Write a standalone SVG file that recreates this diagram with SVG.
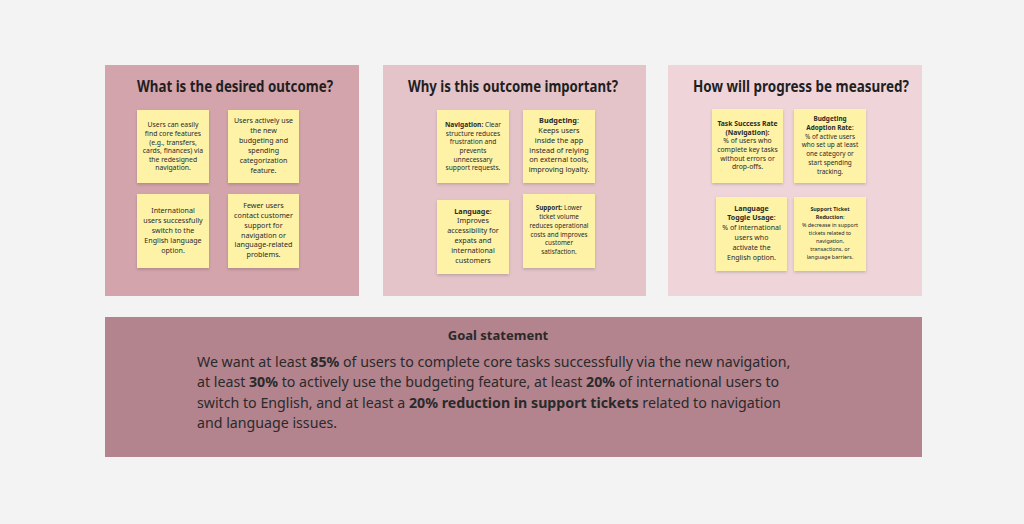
<svg xmlns="http://www.w3.org/2000/svg" width="1024" height="524" viewBox="0 0 1024 524">
<defs>
<filter id="sh" x="-20%" y="-20%" width="140%" height="150%">
<feDropShadow dx="0" dy="1.5" stdDeviation="1.5" flood-color="#000" flood-opacity="0.18"/>
</filter>
<style>
text{font-family:"Noto Sans","Open Sans","Liberation Sans",sans-serif;fill:#2a2a2a;}
.title{font-size:16px;font-weight:700;text-anchor:middle;fill:#1f1f1f;}
.sticky{fill:#fdf2a6;filter:url(#sh);}
.st{text-anchor:middle;}
.b{font-weight:700;}
.goal{font-size:14.2px;}
.gt{font-size:13px;font-weight:700;text-anchor:middle;}
</style>
</defs>
<rect width="1024" height="524" fill="#f3f3f3"/>

<g id="panel-outcome">
<rect x="105" y="65" width="254" height="231" fill="#d3a4ab"/>
<text class="title" x="235" y="92" textLength="196" lengthAdjust="spacingAndGlyphs">What is the desired outcome?</text>
</g>
<g id="panel-important">
<rect x="383" y="65" width="263" height="231" fill="#e5c4c9"/>
<text class="title" x="513" y="92" textLength="210" lengthAdjust="spacingAndGlyphs">Why is this outcome important?</text>
</g>
<g id="panel-measured">
<rect x="668" y="65" width="254" height="231" fill="#efd5da"/>
<text class="title" x="801" y="92" textLength="216" lengthAdjust="spacingAndGlyphs">How will progress be measured?</text>
</g>

<g id="sticky-a">
<rect class="sticky" x="137" y="110" width="72" height="73"/>
<text class="st" font-size="6.8"><tspan x="173" y="127.4">Users can easily</tspan><tspan x="173" y="136">find core features</tspan><tspan x="173" y="144.6">(e.g., transfers,</tspan><tspan x="173" y="153.2">cards, finances) via</tspan><tspan x="173" y="161.8">the redesigned</tspan><tspan x="173" y="170.4">navigation.</tspan></text>
</g>
<g id="sticky-b">
<rect class="sticky" x="228" y="110" width="71" height="73"/>
<text class="st" font-size="7.1"><tspan x="263.5" y="123">Users actively use</tspan><tspan x="263.5" y="133">the new</tspan><tspan x="263.5" y="143">budgeting and</tspan><tspan x="263.5" y="153">spending</tspan><tspan x="263.5" y="163">categorization</tspan><tspan x="263.5" y="173">feature.</tspan></text>
</g>
<g id="sticky-c">
<rect class="sticky" x="137" y="194" width="72" height="74"/>
<text class="st" font-size="7.1"><tspan x="173" y="212.5">International</tspan><tspan x="173" y="222.5">users successfully</tspan><tspan x="173" y="232.5">switch to the</tspan><tspan x="173" y="242.5">English language</tspan><tspan x="173" y="252.5">option.</tspan></text>
</g>
<g id="sticky-d">
<rect class="sticky" x="228" y="194" width="71" height="74"/>
<text class="st" font-size="7.2"><tspan x="263.5" y="208.2">Fewer users</tspan><tspan x="263.5" y="218">contact customer</tspan><tspan x="263.5" y="227.8">support for</tspan><tspan x="263.5" y="237.6">navigation or</tspan><tspan x="263.5" y="247.4">language-related</tspan><tspan x="263.5" y="257.2">problems.</tspan></text>
</g>

<g id="sticky-e">
<rect class="sticky" x="437" y="110" width="72" height="73"/>
<text class="st" font-size="6.6"><tspan x="473" y="127.1"><tspan class="b">Navigation:</tspan> Clear</tspan><tspan x="473" y="135.7">structure reduces</tspan><tspan x="473" y="144.3">frustration and</tspan><tspan x="473" y="152.9">prevents</tspan><tspan x="473" y="161.5">unnecessary</tspan><tspan x="473" y="170.1">support requests.</tspan></text>
</g>
<g id="sticky-f">
<rect class="sticky" x="523" y="110" width="72" height="73"/>
<text class="st" font-size="7.3"><tspan x="559" y="123.2"><tspan class="b">Budgeting</tspan>:</tspan><tspan x="559" y="133">Keeps users</tspan><tspan x="559" y="142.8">inside the app</tspan><tspan x="559" y="152.6">instead of relying</tspan><tspan x="559" y="162.4">on external tools,</tspan><tspan x="559" y="172.2">improving loyalty.</tspan></text>
</g>
<g id="sticky-g">
<rect class="sticky" x="437" y="200" width="72" height="74"/>
<text class="st" font-size="7.2"><tspan x="473" y="213.5"><tspan class="b">Language</tspan>:</tspan><tspan x="473" y="223.3">Improves</tspan><tspan x="473" y="233.1">accessibility for</tspan><tspan x="473" y="242.9">expats and</tspan><tspan x="473" y="252.7">international</tspan><tspan x="473" y="262.5">customers</tspan></text>
</g>
<g id="sticky-h">
<rect class="sticky" x="523" y="194" width="72" height="74"/>
<text class="st" font-size="6.3"><tspan x="559" y="210.2"><tspan class="b">Support</tspan>: Lower</tspan><tspan x="559" y="219">ticket volume</tspan><tspan x="559" y="227.8">reduces operational</tspan><tspan x="559" y="236.6">costs and improves</tspan><tspan x="559" y="245.4">customer</tspan><tspan x="559" y="254.2">satisfaction.</tspan></text>
</g>

<g id="sticky-i">
<rect class="sticky" x="712" y="109" width="71" height="74"/>
<text class="st" font-size="6.8"><tspan x="747.5" y="125.7" class="b">Task Success Rate</tspan><tspan x="747.5" y="134.5" class="b">(Navigation):</tspan><tspan x="747.5" y="143.2">% of users who</tspan><tspan x="747.5" y="152">complete key tasks</tspan><tspan x="747.5" y="160.7">without errors or</tspan><tspan x="747.5" y="169.4">drop-offs.</tspan></text>
</g>
<g id="sticky-j">
<rect class="sticky" x="794" y="109" width="72" height="74"/>
<text class="st" font-size="6.4"><tspan x="830" y="121.3" class="b">Budgeting</tspan><tspan x="830" y="130"><tspan class="b">Adoption Rate</tspan>:</tspan><tspan x="830" y="138.7">% of active users</tspan><tspan x="830" y="147.4">who set up at least</tspan><tspan x="830" y="156.1">one category or</tspan><tspan x="830" y="164.8">start spending</tspan><tspan x="830" y="173.5">tracking.</tspan></text>
</g>
<g id="sticky-k">
<rect class="sticky" x="716" y="197" width="71" height="74"/>
<text class="st" font-size="7"><tspan x="751.5" y="210.5" class="b">Language</tspan><tspan x="751.5" y="220.4"><tspan class="b">Toggle Usage</tspan>:</tspan><tspan x="751.5" y="230.3">% of international</tspan><tspan x="751.5" y="240.2">users who</tspan><tspan x="751.5" y="250.1">activate the</tspan><tspan x="751.5" y="260">English option.</tspan></text>
</g>
<g id="sticky-l">
<rect class="sticky" x="794" y="197" width="72" height="74"/>
<text class="st" font-size="5.4"><tspan x="830" y="210.9" class="b">Support Ticket</tspan><tspan x="830" y="218.9"><tspan class="b">Reduction</tspan>:</tspan><tspan x="830" y="226.9">% decrease in support</tspan><tspan x="830" y="234.9">tickets related to</tspan><tspan x="830" y="242.8">navigation,</tspan><tspan x="830" y="250.7">transactions, or</tspan><tspan x="830" y="258.6">language barriers.</tspan></text>
</g>

<g id="goal-statement">
<rect x="105" y="317" width="817" height="140" fill="#b3838e"/>
<text class="gt" x="498" y="339.5">Goal statement</text>
<text class="goal"><tspan x="197" y="366.5">We want at least <tspan class="b">85%</tspan> of users to complete core tasks successfully via the new navigation,</tspan><tspan x="197" y="387">at least <tspan class="b">30%</tspan> to actively use the budgeting feature, at least <tspan class="b">20%</tspan> of international users to</tspan><tspan x="197" y="407.5">switch to English, and at least a <tspan class="b">20% reduction in support tickets</tspan> related to navigation</tspan><tspan x="197" y="428">and language issues.</tspan></text>
</g>
<g id="connectors"/>
</svg>
